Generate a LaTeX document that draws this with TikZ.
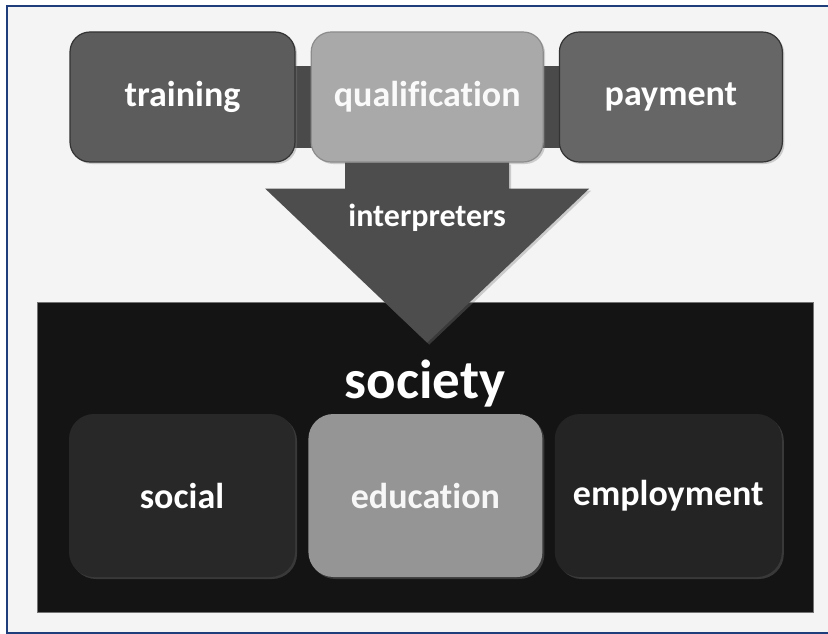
\documentclass[tikz,border=0pt]{standalone}
\usepackage{fontspec}
\setmainfont{Carlito}[Ligatures=NoCommon]
\usepackage{tikz}
\usetikzlibrary{positioning}
\usetikzlibrary{calc}
\usetikzlibrary{shadows}

\definecolor{framebl}{HTML}{1F3D7A}
\definecolor{pagebg}{HTML}{F4F4F4}
\definecolor{trainfill}{HTML}{5C5C5C}
\definecolor{qualfill}{HTML}{A9A9A9}
\definecolor{payfill}{HTML}{666666}
\definecolor{barfill}{HTML}{4A4A4A}
\definecolor{arrowfill}{HTML}{4D4D4D}
\definecolor{socfill}{HTML}{141414}
\definecolor{socialfill}{HTML}{282828}
\definecolor{edufill}{HTML}{959595}
\definecolor{empfill}{HTML}{242424}

\pgfdeclarelayer{back}
\pgfdeclarelayer{front}
\pgfsetlayers{back,main,front}

\begin{document}
\begin{tikzpicture}[x=1pt,y=-1pt,
    lbl/.style={text=white,font=\fontsize{36}{40}\selectfont\bfseries},
    shade/.style={drop shadow={shadow xshift=2pt,shadow yshift=-2pt,opacity=.35}},
    topbox/.style={lbl,shade,draw=black!80,line width=1.2pt,rounded corners=20pt,minimum height=130pt},
    lowbox/.style={lbl,shade,rounded corners=25pt,minimum height=163pt},
    bar/.style={draw=barfill,line width=82pt}]
  \useasboundingbox (0,0) rectangle (828,634);
  \begin{pgfonlayer}{back}
    \fill[white] (0,0) rectangle (828,634);
    \draw[fill=pagebg,draw=framebl,line width=1.5pt] (7,6) rectangle (840,633);
  \end{pgfonlayer}

  % top row
  \node[topbox,fill=trainfill,minimum width=225pt] (training) at (182.5,97) {training};
  \node[topbox,fill=qualfill,draw=black!45,minimum width=232pt,text=white!98!black,right=15pt of training] (qual) {qualification};
  \node[topbox,fill=payfill,minimum width=223pt,right=15pt of qual] (payment) {payment};
  \begin{pgfonlayer}{back}
    \path[bar]
      ([yshift=-10pt]training.center) edge ([yshift=-10pt]qual.center)
      ([yshift=-10pt]qual.center) edge ([yshift=-10pt]payment.center);
  \end{pgfonlayer}

  % society
  \node[draw=black!55,fill=socfill,line width=1pt,minimum width=776pt,minimum height=310pt] (society) at (425,457) {};
  \node[lbl,font=\fontsize{55}{60}\selectfont\bfseries,anchor=base] (societylbl) at (425,398) {society};
  \node[lowbox,fill=socialfill,minimum width=226pt] (social) at (182,495.5) {social};
  \node[lowbox,fill=edufill,minimum width=234pt,text=white!97!black,right=13pt of social] (education) {education};
  \node[lowbox,fill=empfill,minimum width=227pt,right=12pt of education] (employment) {employment};

  % arrow
  \begin{pgfonlayer}{front}
    \coordinate (tip) at ($(qual.south)+(0,180)$);
    \fill[arrowfill,shade] ($(qual.south)+(-82,0)$) -- ++(0,26) -- ++(-80,0) -- (tip)
      -- ++(162,-154) -- ++(-80,0) -- ++(0,-26) -- cycle;
    \node[lbl,font=\fontsize{32}{36}\selectfont\bfseries] (interp) at ($(qual.south)+(0,55)$) {interpreters};
  \end{pgfonlayer}
\end{tikzpicture}
\end{document}
